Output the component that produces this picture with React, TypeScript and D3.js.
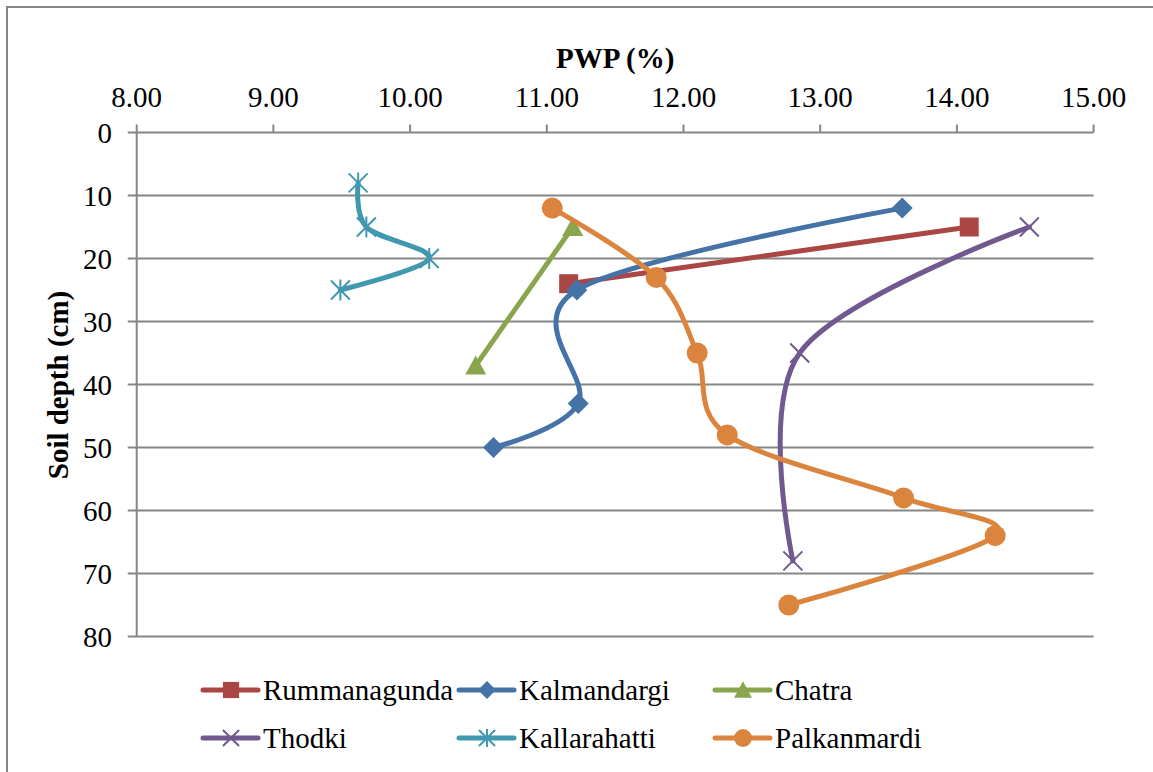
import React from "react";
import * as d3 from "d3";

const xTickValues = [8, 9, 10, 11, 12, 13, 14, 15];
const yTickValues = [0, 10, 20, 30, 40, 50, 60, 70, 80];

const seriesNames = ["Rummanagunda", "Kalmandargi", "Chatra", "Thodki", "Kallarahatti", "Palkanmardi"];

const rummanagundaDepth = [15, 24];
const rummanagundaPWP = [14.09, 11.16];
const kalmandargiDepth = [12, 25, 43, 50];
const kalmandargiPWP = [13.6, 11.22, 11.23, 10.61];
const chatraDepth = [15, 37];
const chatraPWP = [11.19, 10.48];
const thodkiDepth = [15, 35, 68];
const thodkiPWP = [14.53, 12.85, 12.8];
const kallarahattiDepth = [8, 15, 20, 25];
const kallarahattiPWP = [9.62, 9.68, 10.14, 9.49];
const palkanmardiDepth = [12, 23, 35, 48, 58, 64, 75];
const palkanmardiPWP = [11.04, 11.8, 12.1, 12.32, 13.61, 14.28, 12.77];

const colors = ["#AA4643", "#4572A7", "#89A54E", "#71588F", "#4198AF", "#DB843D"];
const markerTypes = ["square", "diamond", "triangle", "x", "star", "circle"];

const seriesData = [
  [rummanagundaPWP, rummanagundaDepth],
  [kalmandargiPWP, kalmandargiDepth],
  [chatraPWP, chatraDepth],
  [thodkiPWP, thodkiDepth],
  [kallarahattiPWP, kallarahattiDepth],
  [palkanmardiPWP, palkanmardiDepth],
];

const FONT = "'Liberation Serif', 'Times New Roman', serif";
const GRID = "#868686";

function Marker({ type, x, y, color, s = 1 }: { type: string; x: number; y: number; color: string; s?: number }) {
  switch (type) {
    case "square":
      return <rect x={x - 9.5 * s} y={y - 9.5 * s} width={19 * s} height={19 * s} fill={color} />;
    case "diamond": {
      const r = 10.5 * s;
      return <path d={`M${x},${y - r}L${x + r},${y}L${x},${y + r}L${x - r},${y}Z`} fill={color} />;
    }
    case "triangle": {
      const h = 18 * s, w = 21 * s;
      return <path d={`M${x},${y - h / 2 - 1}L${x + w / 2},${y + h / 2}L${x - w / 2},${y + h / 2}Z`} fill={color} />;
    }
    case "circle":
      return <circle cx={x} cy={y} r={10.5 * s} fill={color} />;
    case "x": {
      const r = 9.5 * s;
      return (
        <path d={`M${x - r},${y - r}L${x + r},${y + r}M${x - r},${y + r}L${x + r},${y - r}`} stroke={color} strokeWidth={2} fill="none" />
      );
    }
    case "star": {
      const r = 9.5 * s;
      return (
        <path
          d={`M${x - r},${y - r}L${x + r},${y + r}M${x - r},${y + r}L${x + r},${y - r}M${x},${y - r - 1}L${x},${y + r + 1}`}
          stroke={color}
          strokeWidth={2}
          fill="none"
        />
      );
    }
  }
  return null;
}

export default function App() {
  const width = 1153;
  const height = 772;
  const x = d3.scaleLinear().domain([8, 15]).range([136.7, 1093.6]);
  const y = d3.scaleLinear().domain([0, 80]).range([132.5, 636.5]);
  const line = d3
    .line<[number, number]>()
    .x((d) => x(d[0]))
    .y((d) => y(d[1]))
    .curve(d3.curveCardinal.tension(0));

  const legendCols = [203, 459, 715];
  const legendRows = [690, 738];

  return (
    <svg width={width} height={height} style={{ position: "absolute", left: 0, top: 0, background: "#fff" }}>
      <rect x={0} y={0} width={width} height={height} fill="#fff" />
      <rect x={7} y={7} width={width + 50} height={height + 50} fill="none" stroke={GRID} strokeWidth={2} />

      {/* gridlines */}
      {yTickValues.map((v) => (
        <line key={"g" + v} x1={x(8)} x2={x(15)} y1={y(v)} y2={y(v)} stroke={GRID} strokeWidth={2} />
      ))}
      {/* y axis */}
      <line x1={x(8)} x2={x(8)} y1={y(0)} y2={y(80)} stroke={GRID} strokeWidth={2} />
      {yTickValues.map((v) => (
        <line key={"yt" + v} x1={x(8) - 9} x2={x(8)} y1={y(v)} y2={y(v)} stroke={GRID} strokeWidth={2} />
      ))}
      {xTickValues.map((v) => (
        <line key={"xt" + v} x1={x(v)} x2={x(v)} y1={y(0) - 8} y2={y(0)} stroke={GRID} strokeWidth={2} />
      ))}

      {/* tick labels */}
      {xTickValues.map((v) => (
        <text key={"xl" + v} x={x(v)} y={107} textAnchor="middle" fontFamily={FONT} fontSize={29} fill="#000">
          {v.toFixed(2)}
        </text>
      ))}
      {yTickValues.map((v) => (
        <text key={"yl" + v} x={112} y={y(v) + 10} textAnchor="end" fontFamily={FONT} fontSize={29} fill="#000">
          {v}
        </text>
      ))}

      {/* axis titles */}
      <text x={(x(8) + x(15)) / 2} y={68} textAnchor="middle" fontFamily={FONT} fontSize={29} fontWeight="bold" fill="#000">
        PWP (%)
      </text>
      <text
        transform={`translate(68,385) rotate(-90)`}
        textAnchor="middle"
        fontFamily={FONT}
        fontSize={29}
        fontWeight="bold"
        fill="#000"
      >
        Soil depth (cm)
      </text>

      {/* series */}
      {seriesData.map(([pwp, depth], i) => {
        const pts = pwp.map((p, j) => [p, depth[j]] as [number, number]);
        return (
          <g key={"s" + i}>
            <path d={line(pts) || ""} fill="none" stroke={colors[i]} strokeWidth={5} strokeLinejoin="round" strokeLinecap="round" />
            {pts.map((p, j) => (
              <Marker key={j} type={markerTypes[i]} x={x(p[0])} y={y(p[1])} color={colors[i]} />
            ))}
          </g>
        );
      })}

      {/* legend */}
      {seriesNames.map((name, i) => {
        const lx = legendCols[i % 3];
        const ly = legendRows[Math.floor(i / 3)];
        return (
          <g key={"l" + i}>
            <line x1={lx} x2={lx + 55} y1={ly} y2={ly} stroke={colors[i]} strokeWidth={5} strokeLinecap="round" />
            <Marker type={markerTypes[i]} x={lx + 28} y={ly} color={colors[i]} s={0.85} />
            <text x={lx + 60} y={ly + 10} fontFamily={FONT} fontSize={29} fill="#000">
              {name}
            </text>
          </g>
        );
      })}
    </svg>
  );
}
